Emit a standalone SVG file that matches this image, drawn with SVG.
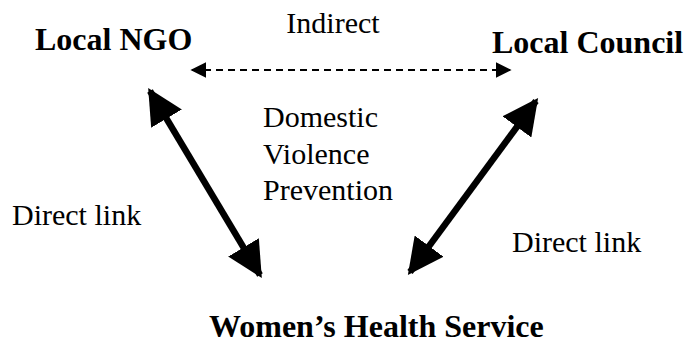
<svg xmlns="http://www.w3.org/2000/svg" width="687" height="346" viewBox="0 0 687 346">
  <defs>
    <marker id="bigHead" viewBox="0 0 10 10" refX="9" refY="5" markerWidth="5.5" markerHeight="5.5" markerUnits="strokeWidth" orient="auto-start-reverse">
      <path d="M0,0 L10,5 L0,10 Z" fill="#000"/>
    </marker>
    <marker id="smallHead" viewBox="0 0 10 10" refX="9" refY="5" markerWidth="8" markerHeight="8" markerUnits="strokeWidth" orient="auto-start-reverse">
      <path d="M0,0 L10,5 L0,10 Z" fill="#000"/>
    </marker>
  </defs>

  <!-- links between the three services -->
  <g id="connectors" stroke="#000" fill="none">
    <line stroke-width="2" stroke-dasharray="7 5" x1="192" y1="70" x2="510" y2="70" marker-start="url(#smallHead)" marker-end="url(#smallHead)"/>
    <g stroke-width="6.5">
      <line x1="150" y1="91" x2="260" y2="275" marker-start="url(#bigHead)" marker-end="url(#bigHead)"/>
      <line x1="536" y1="101" x2="410" y2="272" marker-start="url(#bigHead)" marker-end="url(#bigHead)"/>
    </g>
  </g>

  <g font-size="32" font-weight="bold">
    <g id="local-ngo"><text font-family="Liberation Serif" x="35" y="50">Local NGO</text></g>
    <g id="local-council"><text font-family="Liberation Serif" x="492" y="53">Local Council</text></g>
    <g id="womens-health"><text font-family="Liberation Serif" x="209" y="337">Women’s Health Service</text></g>
  </g>

  <g id="labels" font-size="30">
    <text font-family="Liberation Serif" x="333" y="33" text-anchor="middle">Indirect</text>
    <text font-family="Liberation Serif" x="263" y="127">Domestic</text>
    <text font-family="Liberation Serif" x="263" y="164">Violence</text>
    <text font-family="Liberation Serif" x="263" y="200">Prevention</text>
    <text font-family="Liberation Serif" x="12" y="225">Direct link</text>
    <text font-family="Liberation Serif" x="512" y="252">Direct link</text>
  </g>
</svg>
